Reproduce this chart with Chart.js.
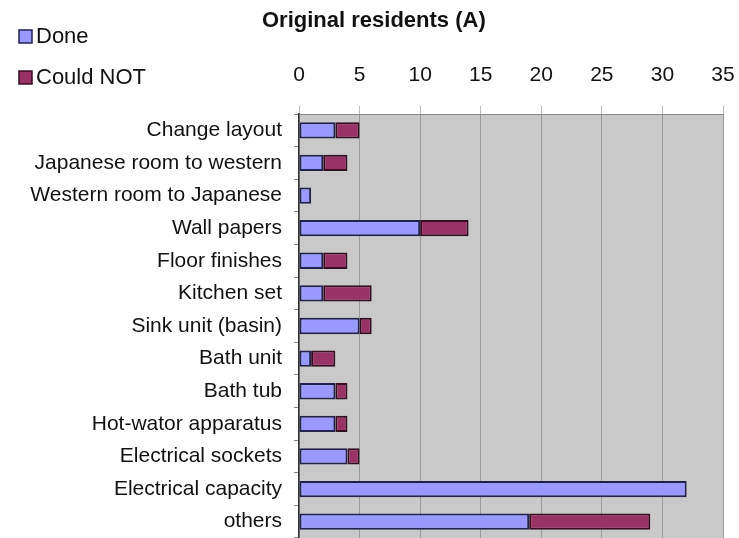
<!DOCTYPE html>
<html>
<head>
<meta charset="utf-8">
<script src="https://cdn.jsdelivr.net/npm/chart.js@4.4.0/dist/chart.umd.min.js"></script>
<style>
html,body{margin:0;padding:0;background:#fff;}
#wrap{width:739px;height:538px;}
</style>
</head>
<body>
<div id="wrap"><canvas id="c" width="739" height="538"></canvas></div>
<script>
const categories = ["Change layout","Japanese room to western","Western room to Japanese","Wall papers","Floor finishes","Kitchen set","Sink unit (basin)","Bath unit","Bath tub","Hot-wator apparatus","Electrical sockets","Electrical capacity","others"];
const doneValues = [3,2,1,10,2,2,5,1,3,3,4,32,19];
const couldNotValues = [2,2,0,4,2,4,1,2,1,1,1,0,10];
const seriesNames = ["Done","Could NOT"];
const chartTitle = "Original residents (A)";
const xTicks = [0,5,10,15,20,25,30,35];

const FONT = "'Liberation Sans', Arial, sans-serif";
const doneColor = "#9999ff", doneBorder = "#22224f";
const cnColor = "#993366", cnBorder = "#360e22";

const overlay = {
  id: 'overlay',
  beforeDraw(chart) {
    const {ctx, chartArea: a} = chart;
    ctx.save();
    ctx.fillStyle = "#c9c9c9";
    ctx.fillRect(a.left, a.top, a.right - a.left, a.bottom - a.top);
    ctx.restore();
  },
  afterDraw(chart) {
    const ctx = chart.ctx;
    ctx.save();
    ctx.fillStyle = "#111";
    ctx.textBaseline = "middle";
    ctx.textAlign = "left";
    ctx.font = "bold 22px " + FONT;
    ctx.fillText(chartTitle, 262, 21);
    const items = [[seriesNames[0], doneColor, doneBorder, 36],[seriesNames[1], cnColor, cnBorder, 77]];
    ctx.font = "22px " + FONT;
    items.forEach(([t, f, b, y]) => {
      ctx.fillStyle = f;
      ctx.fillRect(19, y - 6, 13, 13);
      ctx.strokeStyle = b;
      ctx.lineWidth = 1.5;
      ctx.strokeRect(19, y - 6, 13, 13);
      ctx.fillStyle = "#111";
      ctx.fillText(t, 36, y + 1);
    });
    ctx.restore();
  }
};

function noPad(scale) {
  scale.paddingLeft = 0; scale.paddingRight = 0; scale.paddingTop = 0; scale.paddingBottom = 0;
}

new Chart(document.getElementById('c'), {
  type: 'bar',
  data: {
    labels: categories,
    datasets: [
      {label: seriesNames[0], data: doneValues, backgroundColor: doneColor, borderColor: doneBorder, borderWidth: 2, borderSkipped: false, categoryPercentage: 1, barPercentage: 0.5},
      {label: seriesNames[1], data: couldNotValues, backgroundColor: cnColor, borderColor: cnBorder, borderWidth: 2, borderSkipped: false, categoryPercentage: 1, barPercentage: 0.5}
    ]
  },
  options: {
    indexAxis: 'y',
    responsive: false,
    animation: false,
    devicePixelRatio: 1,
    layout: {padding: {left: 0, right: 16, top: 0, bottom: 0}},
    plugins: {legend: {display: false}, title: {display: false}, tooltip: {enabled: false}},
    scales: {
      x: {
        position: 'top', stacked: true, min: 0, max: 35,
        afterBuildTicks(scale) { scale.ticks = xTicks.map(v => ({value: v})); },
        afterFit(scale) { scale.height = 114; noPad(scale); },
        ticks: {color: "#111", font: {family: FONT, size: 21}, padding: 18},
        grid: {color: "#9a9a9a", lineWidth: 1, tickLength: 8, tickColor: "#bbbbbb"},
        border: {color: "#8a8a8a", width: 1}
      },
      y: {
        stacked: true,
        afterFit(scale) { scale.width = 299; noPad(scale); },
        ticks: {color: "#111", font: {family: FONT, size: 21}, padding: 12, autoSkip: false},
        grid: {display: true, drawOnChartArea: false, offset: true, tickLength: 5, color: "#888"},
        border: {color: "#333", width: 1.5}
      }
    }
  },
  plugins: [overlay]
});
</script>
</body>
</html>
